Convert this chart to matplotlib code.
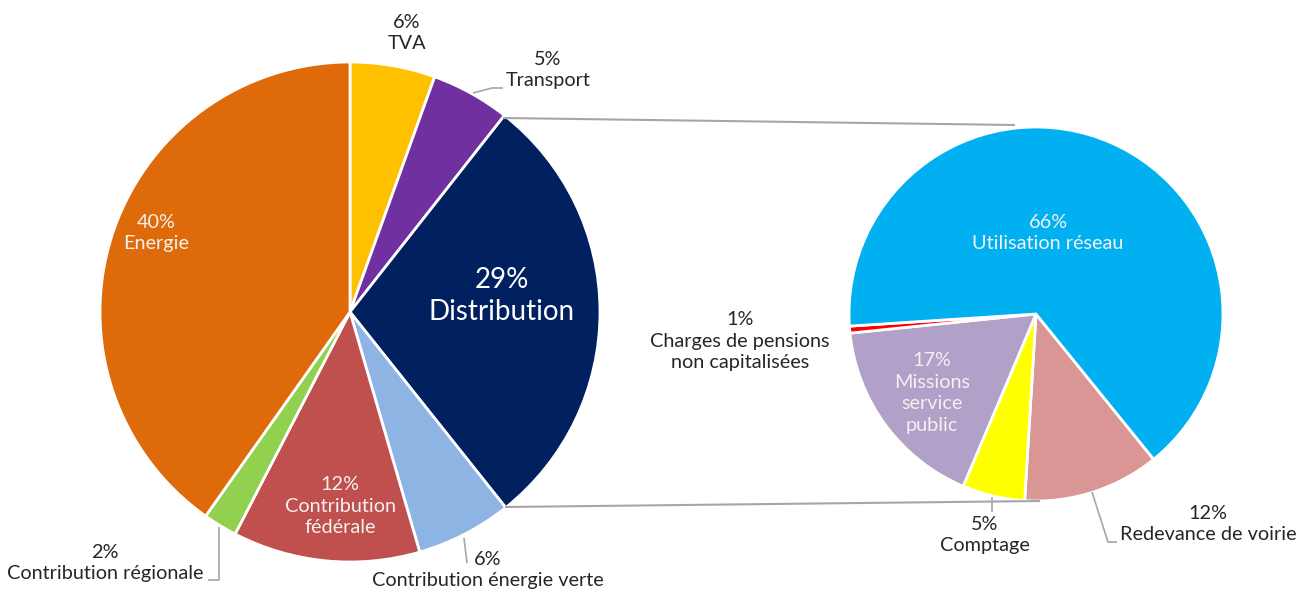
import matplotlib

matplotlib.use("Agg")

import matplotlib.pyplot as plt

plt.rcParams["font.family"] = ["Lato", "DejaVu Sans"]

# main pie, clockwise from 12 o'clock
main_labels = ["TVA", "Transport", "Distribution", "Contribution énergie verte",
               "Contribution fédérale", "Contribution régionale", "Energie"]
main_values = [5.5, 5.1, 28.7, 6.2, 12.1, 2.2, 40.2]
main_pct = ["6%", "5%", "29%", "6%", "12%", "2%", "40%"]
main_colors = ["#FFC000", "#7030A0", "#002060", "#8DB4E2", "#C0504D", "#92D050", "#DE6A0A"]

# breakdown of the distribution slice, clockwise from the lower right
sub_labels = ["Redevance de voirie", "Comptage", "Missions service public",
              "Charges de pensions non capitalisées", "Utilisation réseau"]
sub_values = [11.8, 5.4, 17.0, 0.6, 65.2]
sub_pct = ["12%", "5%", "17%", "1%", "66%"]
sub_colors = ["#DA9694", "#FFFF00", "#B1A0C7", "#FF0000", "#00B0F0"]

H = 594
fig = plt.figure(figsize=(13.1, 5.94), dpi=100)
ax = fig.add_axes([0, 0, 1, 1])

wp = dict(edgecolor="white", linewidth=2)
ax.pie(main_values, colors=main_colors, startangle=90, counterclock=False,
       center=(350, H - 312), radius=250, wedgeprops=wp, frame=True)
ax.pie(sub_values, colors=sub_colors, startangle=-51, counterclock=False,
       center=(1036, H - 314), radius=187, wedgeprops=wp, frame=True)

ax.set_xlim(0, 1310)
ax.set_ylim(0, H)
ax.set_aspect("equal")
ax.axis("off")

grey = "#A6A6A6"
dark = "#262626"
light = "#F2F2F2"


def line(xs, ys, lw=1.2):
    ax.plot(xs, [H - y for y in ys], color=grey, lw=lw, solid_capstyle="butt")


# connector lines between the pies
line([503, 1015], [118, 125], lw=1.5)
line([505, 1040], [507, 501], lw=1.5)

# leader lines
line([473, 492, 503], [93, 88, 88])
line([219, 219, 208], [527, 580, 580])
line([464, 467], [538, 563])
line([992, 992], [497, 512])
line([1092, 1108, 1117], [492, 542, 542])


def label(x, y, text, color=dark, size=14.3):
    ax.text(x, H - y, text, ha="center", va="center", color=color,
            fontsize=size, linespacing=1.32)


i = main_labels.index
label(407, 33, f"{main_pct[i('TVA')]}\nTVA")
label(548, 70, f"{main_pct[i('Transport')]}\nTransport")
label(502, 296, f"{main_pct[i('Distribution')]}\nDistribution", color="white", size=20)
label(156, 233, f"{main_pct[i('Energie')]}\nEnergie", color=light)
label(340, 506, f"{main_pct[i('Contribution fédérale')]}\nContribution\nfédérale", color=light)
label(105, 563, f"{main_pct[i('Contribution régionale')]}\nContribution régionale")
label(488, 570, f"{main_pct[i('Contribution énergie verte')]}\nContribution énergie verte")

j = sub_labels.index
label(1048, 233, f"{sub_pct[j('Utilisation réseau')]}\nUtilisation réseau", color=light)
label(932, 393, f"{sub_pct[j('Missions service public')]}\nMissions\nservice\npublic", color=light)
label(740, 341, f"{sub_pct[j('Charges de pensions non capitalisées')]}\nCharges de pensions\nnon capitalisées")
label(985, 535, f"{sub_pct[j('Comptage')]}\nComptage")
label(1208, 524, f"{sub_pct[j('Redevance de voirie')]}\nRedevance de voirie")

fig.savefig("out.png", dpi=100)
